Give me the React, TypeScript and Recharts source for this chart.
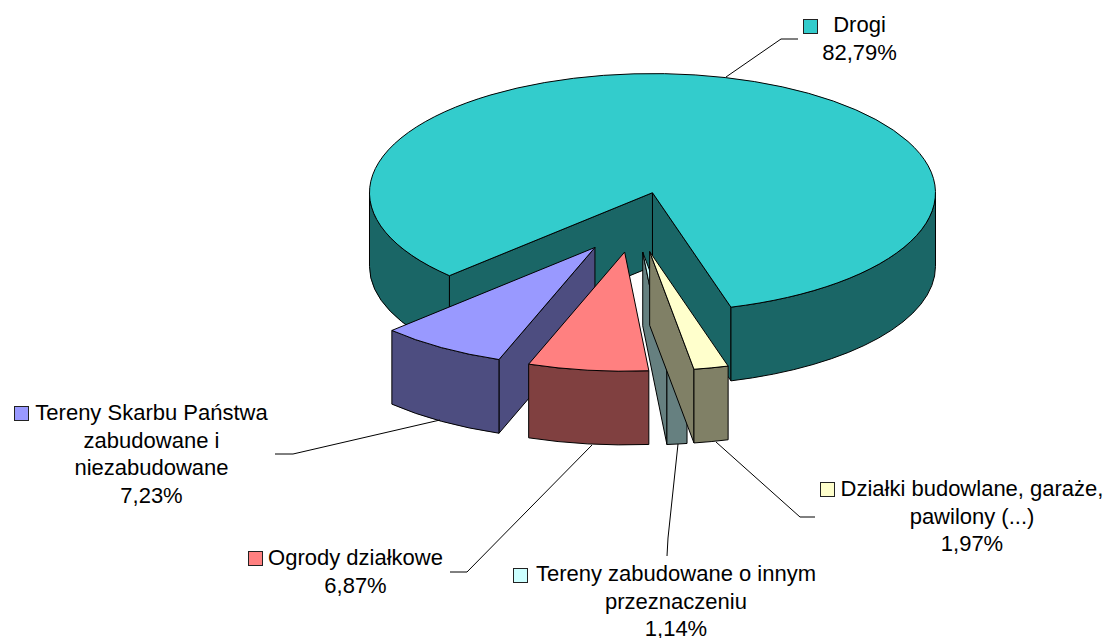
import { Pie, PieChart } from 'recharts';

/** Exploded "3D" pie: Recharts works out each slice's angles, the shape below projects them. */

const CATEGORIES = [
  'Drogi',
  'Tereny Skarbu Państwa zabudowane i niezabudowane',
  'Ogrody działkowe',
  'Tereny zabudowane o innym przeznaczeniu',
  'Działki budowlane, garaże, pawilony (...)',
];
const VALUES = [82.79, 7.23, 6.87, 1.14, 1.97];
const VALUE_LABELS = ['82,79%', '7,23%', '6,87%', '1,14%', '1,97%'];
const LABEL_LINES = [
  ['Drogi'],
  ['Tereny Skarbu Państwa', 'zabudowane i', 'niezabudowane'],
  ['Ogrody działkowe'],
  ['Tereny zabudowane o innym', 'przeznaczeniu'],
  ['Działki budowlane, garaże,', 'pawilony (...)'],
];
const TOP_COLORS = ['#33CCCC', '#9999FF', '#FF8080', '#CCFFFF', '#FFFFCC'];
const SIDE_COLORS = ['#1A6666', '#4D4D80', '#804040', '#668080', '#808066'];

// where each callout sits: swatch corner, text centre, first baseline, leader polyline
const CALLOUTS = [
  { box: [803, 19], textX: 859.5, baseline: 32, leader: '726,77 781,39 798,39' },
  { box: [14, 406], textX: 151.5, baseline: 420, leader: '440,420 293,454 275,454' },
  { box: [248, 551], textX: 355.5, baseline: 565, leader: '592,445 467,572 450,572' },
  { box: [513, 568], textX: 676, baseline: 581, leader: '678,444 668,538 667,556' },
  { box: [820, 482], textX: 972, baseline: 496, leader: '716,442 800,517 815,517' },
];

const rows = CATEGORIES.map((name, i) => ({
  name,
  value: VALUES[i],
  fill: TOP_COLORS[i],
  side: SIDE_COLORS[i],
}));

const WIDTH = 1106;
const HEIGHT = 638;
const SQUASH = 0.421;
const DEPTH = 73.7;
const EXPLODE = 72;
const RAD = Math.PI / 180;

function Slice3D(props: any) {
  const { cx, cy, outerRadius: r, startAngle, endAngle, fill, side } = props;
  const hi = Math.max(startAngle, endAngle);
  const lo = Math.min(startAngle, endAngle);
  const mid = (hi + lo) / 2;
  const ox = cx + EXPLODE * Math.cos(mid * RAD);
  const oy = cy - EXPLODE * Math.sin(mid * RAD) * SQUASH;
  const ry = r * SQUASH;

  const pt = (a: number, z = 0) =>
    `${ox + r * Math.cos(a * RAD)} ${oy - ry * Math.sin(a * RAD) + z}`;
  const arc = (to: number, z: number, large: boolean, sweep: number) =>
    `A ${r} ${ry} 0 ${large ? 1 : 0} ${sweep} ${pt(to, z)}`;

  // outer wall, only where the rim faces the viewer (lower half of the ellipse)
  const walls: string[] = [];
  for (let k = -1; k < 3; k++) {
    const a = Math.max(lo, -180 + 360 * k);
    const b = Math.min(hi, 360 * k);
    if (b > a) {
      walls.push(
        `M ${pt(b)} ${arc(a, 0, false, 1)} L ${pt(a, DEPTH)} ${arc(b, DEPTH, false, 0)} Z`,
      );
    }
  }

  // radial cut faces that turn towards the viewer
  const cut = (a: number) =>
    `M ${ox} ${oy} L ${pt(a)} L ${pt(a, DEPTH)} L ${ox} ${oy + DEPTH} Z`;
  const faces: string[] = [];
  if (Math.cos(hi * RAD) < 0) faces.push(cut(hi));
  if (Math.cos(lo * RAD) > 0) faces.push(cut(lo));

  const top = `M ${ox} ${oy} L ${pt(hi)} ${arc(lo, 0, hi - lo > 180, 1)} Z`;
  const line = { stroke: '#000', strokeWidth: 1, strokeLinejoin: 'round' as const };

  return (
    <g>
      {faces.map((d) => (
        <path key={d} d={d} fill={side} {...line} />
      ))}
      {walls.map((d) => (
        <path key={d} d={d} fill={side} {...line} />
      ))}
      <path d={top} fill={fill} {...line} />
    </g>
  );
}

function Callout(props: any) {
  const { index } = props;
  const c = CALLOUTS[index];
  const lines = [...LABEL_LINES[index], VALUE_LABELS[index]];
  return (
    <g>
      <polyline points={c.leader} fill="none" stroke="#000" strokeWidth={1} />
      <rect
        x={c.box[0] + 0.5}
        y={c.box[1] + 0.5}
        width={14}
        height={14}
        fill={TOP_COLORS[index]}
        stroke="#222"
        strokeWidth={1}
      />
      {lines.map((text, i) => (
        <text
          key={text}
          x={c.textX}
          y={c.baseline + i * 27.6}
          textAnchor="middle"
          fontFamily="'Liberation Sans', Arial, sans-serif"
          fontSize={22}
          fill="#000"
        >
          {text}
        </text>
      ))}
    </g>
  );
}

export default function App() {
  return (
    <div style={{ position: 'absolute', left: 0, top: 0, width: WIDTH, height: HEIGHT, background: '#fff' }}>
      <PieChart width={WIDTH} height={HEIGHT} margin={{ top: 0, right: 0, bottom: 0, left: 0 }}>
        <Pie
          data={rows}
          dataKey="value"
          nameKey="name"
          cx={634}
          cy={222}
          innerRadius={0}
          outerRadius={283}
          startAngle={-73.9}
          endAngle={286.1}
          stroke="#000"
          shape={Slice3D}
          label={Callout}
          labelLine={false}
          isAnimationActive={false}
        />
      </PieChart>
    </div>
  );
}
